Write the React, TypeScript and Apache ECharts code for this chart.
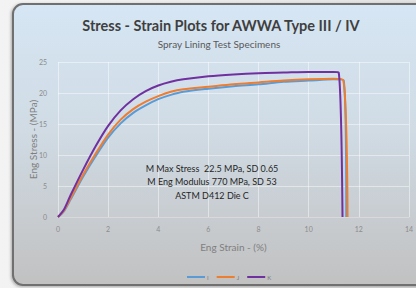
import React, { useEffect, useRef } from "react";
import * as echarts from "echarts";

const seriesNames = ["I", "J", "K"];
const seriesColors = ["#5b9bd5", "#ed7d31", "#7030a0"];

const strainI = [0, 0.25, 0.5, 1, 1.5, 2, 2.5, 3, 3.5, 4, 4.5, 5, 6, 7, 8, 9, 10, 11, 11.4, 11.5];
const stressI = [0, 1.0, 2.8, 6.5, 9.8, 12.8, 15.1, 16.8, 18.0, 19.0, 19.7, 20.2, 20.7, 21.1, 21.4, 21.8, 22.0, 22.2, 22.0, 0];

const strainJ = [0, 0.25, 0.5, 1, 1.5, 2, 2.5, 3, 3.5, 4, 4.5, 5, 6, 7, 8, 9, 10, 11, 11.38, 11.55];
const stressJ = [0, 1.1, 3.0, 6.8, 10.2, 13.3, 15.7, 17.4, 18.6, 19.5, 20.2, 20.6, 21.0, 21.4, 21.7, 22.0, 22.2, 22.3, 22.1, 0];

const strainK = [0, 0.25, 0.5, 1, 1.5, 2, 2.5, 3, 3.5, 4, 4.5, 5, 6, 7, 8, 9, 10, 11, 11.2, 11.35];
const stressK = [0, 1.3, 3.5, 7.6, 11.4, 14.7, 17.2, 19.0, 20.3, 21.2, 21.8, 22.2, 22.7, 23.0, 23.2, 23.3, 23.4, 23.4, 23.3, 0];

const titleText = "Stress - Strain Plots for AWWA Type III / IV";
const subtitleText = "Spray Lining Test Specimens";
const xAxisName = "Eng Strain - (%)";
const yAxisName = "Eng Stress - (MPa)";
const noteLines = [
  "M Max Stress  22.5 MPa, SD 0.65",
  "M Eng Modulus 770 MPa, SD 53",
  "ASTM D412 Die C",
];

const strains = [strainI, strainJ, strainK];
const stresses = [stressI, stressJ, stressK];

export default function App() {
  const ref = useRef<HTMLDivElement>(null);
  useEffect(() => {
    document.body.style.margin = "0";
    if (!ref.current) return;
    const chart = echarts.init(ref.current, null, { renderer: "svg" });
    const font = "Lato, 'Open Sans', sans-serif";
    chart.setOption({
      animation: false,
      backgroundColor: {
        type: "linear", x: 0, y: 0, x2: 1, y2: 0,
        colorStops: [
          { offset: 0, color: "#f3f3f3" },
          { offset: 1, color: "#e2e2e2" },
        ],
      },
      textStyle: { fontFamily: font },
      graphic: [
        {
          type: "rect",
          z: -100,
          shape: { x: 13, y: 4, width: 430, height: 281, r: 10 },
          style: {
            fill: {
              type: "linear", x: 0, y: 0, x2: 0, y2: 1,
              colorStops: [
                { offset: 0, color: "#d6e6f4" },
                { offset: 0.45, color: "#d0dbe4" },
                { offset: 1, color: "#c1c1c1" },
              ],
            },
            stroke: "#6f6f6f",
            lineWidth: 2,
            shadowBlur: 3,
            shadowColor: "rgba(0,0,0,0.3)",
            shadowOffsetX: -1,
            shadowOffsetY: 1,
          },
        },
        {
          type: "text",
          x: 221,
          y: 25,
          style: {
            text: titleText,
            fill: "#3f3f3f",
            font: "bold 14.5px " + font,
            textAlign: "center",
            textVerticalAlign: "middle",
          },
        },
        {
          type: "text",
          x: 219,
          y: 44,
          style: {
            text: subtitleText,
            fill: "#595959",
            font: "10px " + font,
            textAlign: "center",
            textVerticalAlign: "middle",
          },
        },
        ...noteLines.map((t, i) => ({
          type: "text",
          x: 212,
          y: 168 + i * 13.5,
          z: 10,
          style: {
            text: t,
            fill: "#262626",
            font: "9px " + font,
            textAlign: "center",
            textVerticalAlign: "middle",
          },
        })),
      ],
      grid: { left: 58, right: 1, top: 62, bottom: 71, containLabel: false },
      xAxis: {
        type: "value",
        min: 0,
        max: 14,
        interval: 2,
        name: xAxisName,
        nameLocation: "middle",
        nameGap: 25,
        nameMoveOverlap: false,
        nameTextStyle: { color: "#7f7f7f", fontSize: 10, fontFamily: font },
        axisLine: { show: true, lineStyle: { color: "#d9d9d9", width: 1 } },
        axisTick: { show: false },
        axisLabel: { color: "#8c8c8c", fontSize: 7, margin: 8 },
        splitLine: { show: true, lineStyle: { color: "rgba(255,255,255,0.45)", width: 1 } },
      },
      yAxis: {
        type: "value",
        min: 0,
        max: 25,
        interval: 5,
        name: yAxisName,
        nameLocation: "middle",
        nameGap: 20,
        nameMoveOverlap: false,
        nameTextStyle: { color: "#7f7f7f", fontSize: 10, fontFamily: font },
        axisLine: { show: false },
        axisTick: { show: false },
        axisLabel: { color: "#8c8c8c", fontSize: 7, margin: 11 },
        splitLine: { show: true, lineStyle: { color: "rgba(255,255,255,0.45)", width: 1 } },
      },
      legend: {
        bottom: 3,
        left: 182,
        icon: "rect",
        itemWidth: 18,
        itemHeight: 2,
        itemGap: 8,
        textStyle: { color: "#7f7f7f", fontSize: 6, padding: [0, 0, 0, -3] },
        data: seriesNames,
      },
      series: seriesNames.map((name, i) => ({
        name,
        type: "line",
        showSymbol: false,
        smooth: 0.3,
        color: seriesColors[i],
        lineStyle: { width: 2, color: seriesColors[i] },
        data: strains[i].map((x, j) => [x, stresses[i][j]]),
      })),
    });
    return () => chart.dispose();
  }, []);
  return (
    <div
      ref={ref}
      style={{ position: "absolute", left: 0, top: 0, width: 416, height: 288 }}
    />
  );
}
